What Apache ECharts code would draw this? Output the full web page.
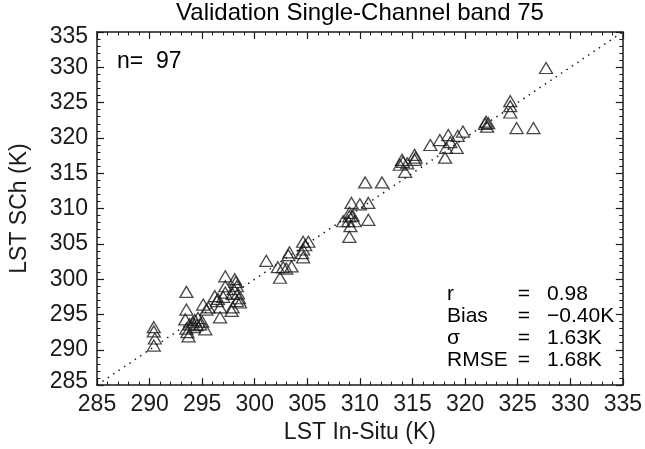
<!DOCTYPE html>
<html>
<head>
<meta charset="utf-8">
<script src="https://cdn.jsdelivr.net/npm/echarts@6/dist/echarts.min.js"></script>
<style>
  html, body { margin: 0; padding: 0; background: #fff; }
  #chart { width: 645px; height: 449px; }
</style>
</head>
<body>
<div id="chart"></div>
<script>
// LST from the single-channel algorithm (band 75) against in-situ LST, in kelvin
const inSitu = [
  290.4, 290.4, 290.5, 290.4,
  293.5, 293.5, 293.4, 293.5, 293.7, 293.6, 293.8,
  294.1, 294.3, 294.5, 294.8, 295.0, 295.3, 294.2, 294.6, 295.1, 295.4, 295.6,
  296.2, 296.4, 296.7, 296.7, 296.5, 297.2, 297.2, 297.2, 297.0,
  298.1, 298.3, 297.9, 298.3, 298.6, 297.8, 297.9, 298.0, 298.2, 298.4, 298.5,
  301.1, 302.2, 302.7, 302.4, 303.2, 303.3, 303.5, 303.0, 304.6, 304.6, 304.6, 305.1, 304.8, 304.5,
  309.0, 308.4, 308.9, 309.0, 309.5, 309.0, 309.2, 310.0, 310.8, 310.8, 310.5, 312.1, 309.1, 309.3,
  314.0, 313.8, 314.3, 315.2, 315.2, 314.1, 315.3, 314.5,
  316.7, 317.6, 318.4, 319.3, 319.8, 318.2, 319.2, 318.1, 318.6,
  322.0, 322.1, 321.9, 322.2,
  324.3, 324.3, 324.3, 324.9, 326.5, 327.7
];
const singleChannel = [
  293.2, 292.6, 291.6, 290.6,
  298.2, 295.7, 294.3, 293.0, 291.9, 292.5, 293.6,
  293.9, 294.2, 293.5, 293.6, 294.0, 292.9, 293.2, 294.5, 296.4, 295.7, 296.0,
  297.6, 296.9, 296.0, 294.6, 297.2, 300.4, 299.0, 298.1, 297.5,
  300.0, 299.0, 297.9, 296.9, 296.7, 295.5, 296.0, 298.6, 299.6, 298.0, 297.3,
  302.6, 301.7, 301.7, 300.2, 303.4, 303.8, 301.8, 301.5, 303.1, 304.2, 305.3, 305.3, 304.8, 303.7,
  306.0, 308.2, 308.2, 308.9, 308.2, 309.4, 310.8, 310.6, 310.8, 308.4, 313.7, 313.7, 307.5, 309.0,
  316.9, 316.2, 315.2, 317.6, 316.9, 316.6, 317.2, 316.4,
  319.0, 319.7, 320.4, 320.3, 320.9, 318.6, 318.6, 317.2, 319.4,
  322.3, 321.6, 322.0, 322.1,
  325.2, 324.5, 323.6, 321.4, 321.4, 329.9
];

// Axis range and the 1:1 reference line
const axisMin = 285, axisMax = 335, axisStep = 5;
const identityLine = [[285, 285], [335, 335]];

// Summary statistics
const statNames = ['r', 'Bias', 'σ', 'RMSE'];
const statValues = ['0.98', '−0.40K', '1.63K', '1.68K'];
const sampleCount = 97;

const titleText = 'Validation Single-Channel band 75';
const xName = 'LST In-Situ (K)';
const yName = 'LST SCh (K)';

const points = inSitu.map((v, i) => [v, singleChannel[i]]);

const INK = '#1a1a1a';
const FONT = 'Liberation Sans, Arial, Helvetica, sans-serif';
const labelFont = { fontFamily: FONT, fontSize: 23, color: INK };
const titleFont = { fontFamily: FONT, fontSize: 24, color: INK };
const statFont = { fontFamily: FONT, fontSize: 21, color: INK };

function axisBase(extra) {
  return Object.assign({
    type: 'value',
    min: axisMin,
    max: axisMax,
    interval: axisStep,
    splitLine: { show: false },
    axisLine: { show: true, onZero: false, lineStyle: { color: INK, width: 1.5 } },
    axisTick: { show: true, inside: true, length: 7, lineStyle: { color: INK, width: 1.2 } },
    minorTick: { show: true, splitNumber: 5, length: 3.5, lineStyle: { color: INK, width: 1 } },
    minorSplitLine: { show: false }
  }, extra);
}

// The end labels of the vertical axis sit slightly inside the frame
function yLabel(value) {
  if (value === axisMax) return '{hi|' + value + '}';
  if (value === axisMin) return '{lo|' + value + '}';
  return String(value);
}

const chart = echarts.init(document.getElementById('chart'), null, { renderer: 'canvas' });

const gridLeft = 97, gridRight = 22, gridTop = 32, gridBottom = 63;

chart.setOption({
  animation: false,
  backgroundColor: '#fff',
  grid: { left: gridLeft, right: gridRight, top: gridTop, bottom: gridBottom, containLabel: false },
  xAxis: [
    axisBase({
      position: 'bottom',
      name: xName,
      nameLocation: 'middle',
      nameGap: 35,
      nameTextStyle: labelFont,
      axisLabel: Object.assign({ margin: 8 }, labelFont)
    }),
    axisBase({ position: 'top', axisLabel: { show: false } })
  ],
  yAxis: [
    axisBase({
      position: 'left',
      name: yName,
      nameLocation: 'middle',
      nameGap: 66,
      nameTextStyle: labelFont,
      axisLabel: Object.assign({
        margin: 9,
        formatter: yLabel,
        rich: {
          hi: Object.assign({ padding: [10, 0, 0, 0] }, labelFont),
          lo: Object.assign({ padding: [0, 0, 7, 0] }, labelFont)
        }
      }, labelFont)
    }),
    axisBase({ position: 'right', axisLabel: { show: false } })
  ],
  series: [
    {
      type: 'line',
      data: identityLine,
      symbol: 'none',
      silent: true,
      lineStyle: { color: INK, width: 1.5, type: [1.5, 5] }
    },
    {
      type: 'scatter',
      data: points,
      symbol: 'triangle',
      symbolSize: [13, 11],
      itemStyle: { color: 'rgba(0,0,0,0)', borderColor: INK, borderWidth: 1.3 }
    }
  ],
  graphic: [
    {
      type: 'text', x: gridLeft + (645 - gridLeft - gridRight) / 2, y: 13,
      style: Object.assign({ text: titleText, textAlign: 'center', textVerticalAlign: 'middle' }, titleFont)
    },
    {
      type: 'text', x: 117, y: 62,
      style: Object.assign({ text: 'n=  ' + sampleCount, textVerticalAlign: 'middle' }, labelFont)
    }
  ].concat(statNames.flatMap((name, i) => {
    const y = 294 + i * 22;
    return [
      { type: 'text', x: 447, y: y, style: Object.assign({ text: name, textVerticalAlign: 'middle' }, statFont) },
      { type: 'text', x: 524, y: y, style: Object.assign({ text: '=', textAlign: 'center', textVerticalAlign: 'middle' }, statFont) },
      { type: 'text', x: 547, y: y, style: Object.assign({ text: statValues[i], textVerticalAlign: 'middle' }, statFont) }
    ];
  }))
});
</script>
</body>
</html>
